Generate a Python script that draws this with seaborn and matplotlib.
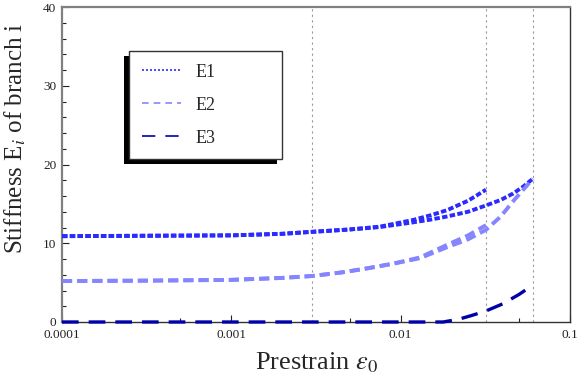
import numpy as np
import pandas as pd
import matplotlib
matplotlib.use("Agg")
import matplotlib.pyplot as plt
from matplotlib.lines import Line2D
from matplotlib.patches import Rectangle
import seaborn as sns

# ---- data ----
e1a_x = [1e-4, 3e-4, 1e-3, 2e-3, 3e-3, 5e-3, 7.5e-3, 1.18e-2, 1.5e-2, 1.88e-2, 2.5e-2, 3.19e-2]
e1a_y = [10.9, 10.95, 11.0, 11.2, 11.45, 11.75, 12.1, 12.95, 13.55, 14.2, 15.4, 16.8]
e1b_x = [1e-4, 3e-4, 1e-3, 2e-3, 3e-3, 5e-3, 7.5e-3, 1.18e-2, 1.5e-2, 1.88e-2, 2.5e-2, 3.19e-2, 3.9e-2, 4.6e-2, 5.3e-2, 6.04e-2]
e1b_y = [10.9, 10.95, 11.0, 11.2, 11.45, 11.75, 12.05, 12.65, 13.0, 13.4, 14.0, 14.8, 15.5, 16.3, 17.2, 18.2]
e2a_x = [1e-4, 3e-4, 1e-3, 2e-3, 3e-3, 4.5e-3, 6.3e-3, 9e-3, 1.3e-2, 1.88e-2, 2.5e-2, 3.19e-2]
e2a_y = [5.2, 5.25, 5.35, 5.6, 5.84, 6.3, 6.8, 7.4, 8.2, 9.8, 11.0, 12.3]
e2b_x = [1e-4, 3e-4, 1e-3, 2e-3, 3e-3, 4.5e-3, 6.3e-3, 9e-3, 1.3e-2, 1.88e-2, 2.5e-2, 3.19e-2, 3.9e-2, 4.6e-2, 5.3e-2, 6.04e-2]
e2b_y = [5.2, 5.25, 5.35, 5.6, 5.84, 6.3, 6.8, 7.4, 8.1, 9.5, 10.5, 11.7, 13.4, 15.3, 16.8, 18.2]
e3_x = [1e-4, 1.78e-2, 2.2e-2, 2.6e-2, 3.19e-2, 4e-2, 5e-2, 6.04e-2]
e3_y = [0.0, 0.0, 0.35, 0.8, 1.4, 2.3, 3.5, 4.7]
vline_x = [3e-3, 3.19e-2, 6.04e-2]
legend_labels = ["E1", "E2", "E3"]
xtick_vals = [1e-4, 1e-3, 1e-2, 1e-1]
xtick_labels = ["0.0001", "0.001", "0.01", "0.1"]
ytick_vals = [0, 10, 20, 30, 40]

c1, c2, c3 = "#2b2bff", "#8585ff", "#0000a8"
ls1 = (0, (1.4, 0.6))
ls2 = (0, (2.6, 1.3))
ls3 = (0, (5.0, 3.0))

sns.set_style("ticks")
plt.rcParams["font.family"] = ["Liberation Serif", "DejaVu Serif"]
plt.rcParams["mathtext.fontset"] = "stix"

fig = plt.figure(figsize=(5.77, 3.83), dpi=100)
ax = fig.add_axes([62 / 577, 1 - 322 / 383, 508 / 577, 315 / 383])

for xv in vline_x:
    ax.axvline(xv, color="#9a9a9a", lw=0.8, ls=(0, (2, 3)), zorder=1)

curves = [
    (e1a_x, e1a_y, c1, ls1, 2.8),
    (e1b_x, e1b_y, c1, ls1, 2.8),
    (e2a_x, e2a_y, c2, ls2, 2.8),
    (e2b_x, e2b_y, c2, ls2, 2.8),
    (e3_x, e3_y, c3, ls3, 2.4),
]
for xs, ys, col, ls, lw in curves:
    df = pd.DataFrame({"x": xs, "y": ys})
    sns.lineplot(data=df, x="x", y="y", ax=ax, color=col, linestyle=ls,
                 lw=lw, zorder=3, clip_on=False)

ax.set_xscale("log")
ax.set_xlim(1e-4, 1e-1)
ax.set_ylim(0, 40)
ax.set_xticks(xtick_vals)
ax.set_xticklabels(xtick_labels)
ax.set_xticks([5e-4, 5e-3, 5e-2], minor=True)
ax.set_xticklabels([], minor=True)
ax.set_yticks(ytick_vals)
ax.set_yticks(np.arange(0, 41, 2), minor=True)
ax.tick_params(axis="both", which="both", direction="in", labelsize=9.5,
               colors="#222222")
ax.tick_params(axis="both", which="major", length=5, width=0.8)
ax.tick_params(axis="x", which="major", pad=5)
ax.tick_params(axis="y", which="major", pad=4)
ax.tick_params(axis="both", which="minor", length=3, width=0.8)

for side in ["left", "top"]:
    ax.spines[side].set_color("#808080")
    ax.spines[side].set_linewidth(1.6)
for side in ["bottom", "right"]:
    ax.spines[side].set_color("#333333")
    ax.spines[side].set_linewidth(1.0)

ax.set_xlabel(r"Prestrain $\varepsilon_0$", fontsize=19, labelpad=7)
ax.set_ylabel(r"Stiffness E$_i$ of branch i", fontsize=18)
ax.yaxis.set_label_coords(-0.066, 0.584)

handles = [
    Line2D([], [], color=c1, lw=1.2, ls=(0, (1.2, 1.2))),
    Line2D([], [], color=c2, lw=1.2, ls=(0, (4, 3))),
    Line2D([], [], color=c3, lw=1.2, ls=(0, (8, 6))),
]
leg = ax.legend(handles, legend_labels, loc="upper left",
                bbox_to_anchor=(0.132, 0.521, 0.301, 0.339), mode="expand",
                borderaxespad=0, fontsize=13, frameon=True, fancybox=False,
                edgecolor="#333333", framealpha=1, handlelength=2.2,
                handletextpad=0.8, labelspacing=0.88, borderpad=0.7)
leg.get_frame().set_linewidth(1.0)

fig.canvas.draw()
bb = leg.get_window_extent()
inv = ax.transAxes.inverted()
(x0, y0) = inv.transform((bb.x0 - 5, bb.y0 - 5))
(x1, y1) = inv.transform((bb.x1 - 5, bb.y1 - 5))
shadow = Rectangle((x0, y0), x1 - x0, y1 - y0, transform=ax.transAxes,
                   facecolor="black", edgecolor="none", zorder=4.5,
                   clip_on=False)
ax.add_patch(shadow)

fig.savefig("out.png", dpi=100)
